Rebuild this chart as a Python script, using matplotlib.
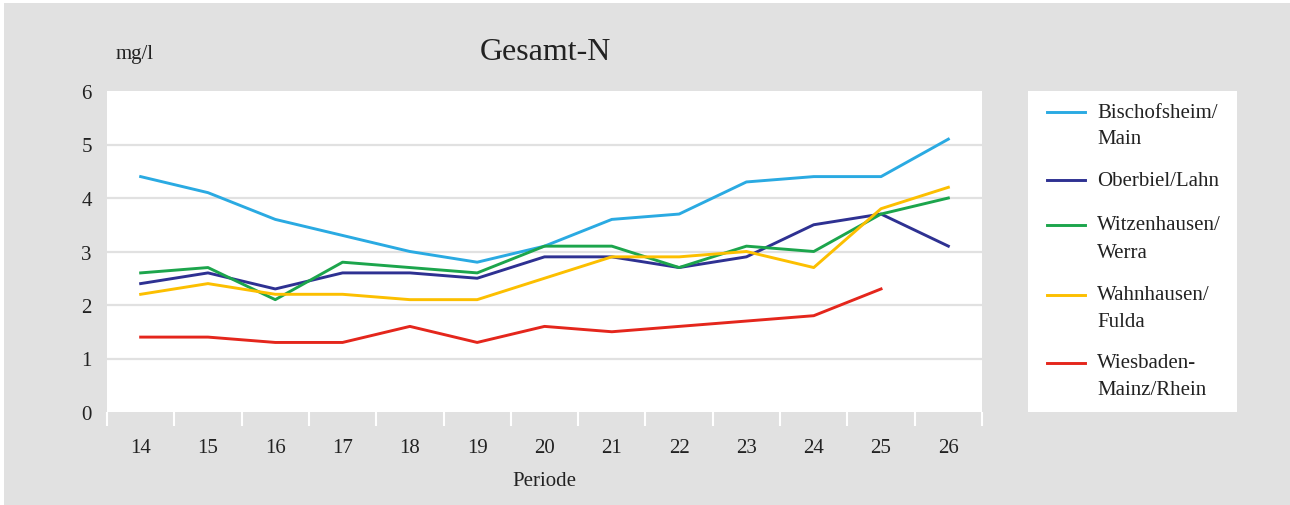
import matplotlib.pyplot as plt
import numpy as np
from matplotlib.patches import Rectangle
from matplotlib.lines import Line2D

plt.rcParams['font.family'] = ['Liberation Serif', 'DejaVu Serif']

# Daten
perioden = [14, 15, 16, 17, 18, 19, 20, 21, 22, 23, 24, 25, 26]
bischofsheim = [4.4, 4.1, 3.6, 3.3, 3.0, 2.8, 3.1, 3.6, 3.7, 4.3, 4.4, 4.4, 5.1]
oberbiel = [2.4, 2.6, 2.3, 2.6, 2.6, 2.5, 2.9, 2.9, 2.7, 2.9, 3.5, 3.7, 3.1]
witzenhausen = [2.6, 2.7, 2.1, 2.8, 2.7, 2.6, 3.1, 3.1, 2.7, 3.1, 3.0, 3.7, 4.0]
wahnhausen = [2.2, 2.4, 2.2, 2.2, 2.1, 2.1, 2.5, 2.9, 2.9, 3.0, 2.7, 3.8, 4.2]
wiesbaden = [1.4, 1.4, 1.3, 1.3, 1.6, 1.3, 1.6, 1.5, 1.6, 1.7, 1.8, 2.3, np.nan]

serien = [bischofsheim, oberbiel, witzenhausen, wahnhausen, wiesbaden]
namen = ["Bischofsheim/\nMain", "Oberbiel/Lahn", "Witzenhausen/\nWerra",
         "Wahnhausen/\nFulda", "Wiesbaden-\nMainz/Rhein"]
farben = ["#2aaae2", "#2e3192", "#1ca54c", "#fcbf00", "#e4261c"]
yticks = [0, 1, 2, 3, 4, 5, 6]

W, H = 1290, 506
grau = "#e1e1e1"

fig = plt.figure(figsize=(W / 100, H / 100), dpi=100, facecolor="white")
fig.patches.append(Rectangle((4 / W, 0), 1, (H - 4) / H, transform=fig.transFigure,
                             facecolor=grau, edgecolor="none", zorder=-10))

def px(x0, y0, x1, y1):
    return [x0 / W, (H - y1) / H, (x1 - x0) / W, (y1 - y0) / H]

ax = fig.add_axes(px(107, 92, 982, 413))
ax.set_facecolor("white")
for s in ax.spines.values():
    s.set_visible(False)

for y in yticks[1:-1]:
    ax.axhline(y, color=grau, lw=1.6, zorder=1)

linien = []
for werte, farbe in zip(serien, farben):
    l, = ax.plot(perioden, werte, color=farbe, lw=2.1, zorder=3)
    linien.append(l)

ax.set_xlim(perioden[0] - 0.5, perioden[-1] + 0.5)
ax.set_ylim(yticks[0], yticks[-1])
ax.set_yticks(yticks)
ax.set_xticks(perioden)
ax.set_xticks(np.arange(perioden[0] - 0.5, perioden[-1] + 1), minor=True)
ax.tick_params(axis="x", which="major", length=0, pad=19, labelsize=15, colors="#222222")
ax.tick_params(axis="x", which="minor", length=10, width=1.5, color="white", direction="out")
ax.tick_params(axis="y", length=0, pad=11, labelsize=15, colors="#222222")
ax.set_xlabel("Periode", fontsize=15, color="#222222", labelpad=10)

fig.text(135 / W, 1 - 55 / H, "mg/l", fontsize=15, ha="center", va="center", color="#222222")
fig.text(545 / W, 1 - 52 / H, "Gesamt-N", fontsize=23, ha="center", va="center", color="#222222")

# Legende
lg = fig.add_axes(px(1028, 92, 1237, 413))
lg.set_facecolor("white")
lg.set_xlim(0, 209)
lg.set_ylim(321, 0)
lg.set_xticks([])
lg.set_yticks([])
for s in lg.spines.values():
    s.set_visible(False)
ypos = [21, 89, 134, 204, 272]
for l, name, y in zip(linien, namen, ypos):
    lg.add_line(Line2D([19, 57], [y, y], color=l.get_color(), lw=2.1))
    for j, teil in enumerate(name.split("\n")):
        lg.text(69, y + j * 27, teil, fontsize=15, va="center", ha="left", color="#222222")

fig.savefig("out.png", dpi=100, facecolor=fig.get_facecolor())
